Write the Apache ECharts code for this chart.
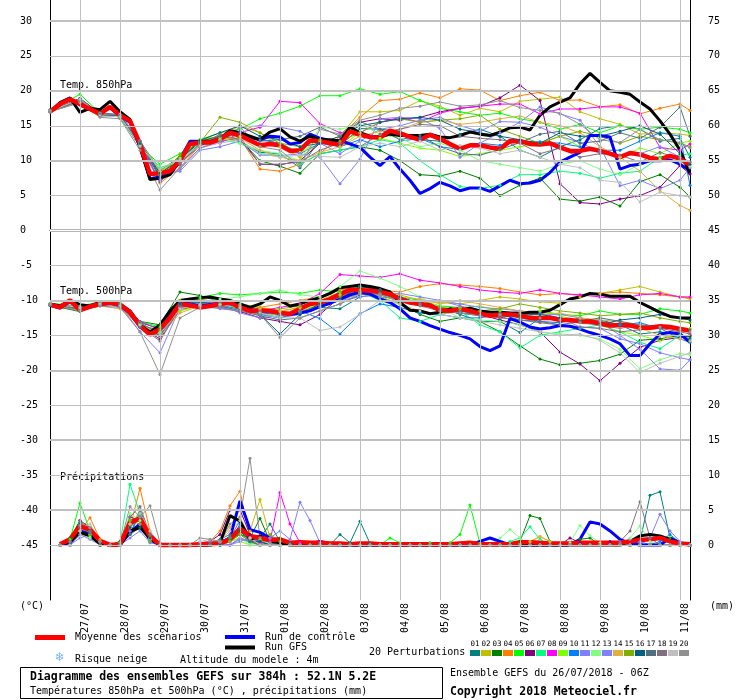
<!DOCTYPE html>
<html>
<head>
<meta charset="utf-8">
<title>GEFS 52.1N 5.2E</title>
<script src="https://cdn.jsdelivr.net/npm/echarts@6.0.0/dist/echarts.min.js"></script>
<style>
    html, body { margin: 0; padding: 0; background: #fff; }
    #chart { width: 740px; height: 700px; }
</style>
</head>
<body>
<div id="chart"></div>
<script>
// pas de temps : 6h depuis le 26/07 06Z, perturbations relevées toutes les 12h
const hours6 = Array.from({ length: 65 }, (_, i) => i * 6)
const precipHours = hours6.slice(1)
const pertHours = [0].concat(Array.from({ length: 31 }, (_, k) => 18 + 12 * k), [384])

const dayLabels = ['27/07', '28/07', '29/07', '30/07', '31/07', '01/08', '02/08', '03/08',
    '04/08', '05/08', '06/08', '07/08', '08/08', '09/08', '10/08', '11/08']
const dayHours = dayLabels.map((d, k) => 18 + 24 * k)
const leftTicks = [30, 25, 20, 15, 10, 5, 0, -5, -10, -15, -20, -25, -30, -35, -40, -45]
const rightTicks = [75, 70, 65, 60, 55, 50, 45, 40, 35, 30, 25, 20, 15, 10, 5, 0]

const pertColors = ['#008080', '#c0c000', '#008000', '#ff8000', '#00ff00', '#800080', '#00ff80',
    '#ff00ff', '#80ff00', '#0080ff', '#8080ff', '#80ff80', '#8080ff', '#e0b040', '#80b000',
    '#006080', '#507080', '#807080', '#c0c0c0', '#909090']

// moyenne, run de contrôle, run GFS (6h)
const mean850 = [17.0,18.1,18.8,18.1,17.4,16.7,17.7,16.5,15.7,12.4,8.1,8.2,8.5,10.0,12.4,12.6,12.6,13.1,14.0,13.6,12.9,12.2,12.4,12.2,11.4,11.5,12.9,12.8,12.5,12.3,14.2,13.7,13.4,13.3,14.3,13.9,13.4,13.0,13.7,13.1,12.4,11.7,12.2,12.2,11.9,11.7,12.8,12.8,12.4,12.3,12.5,11.9,11.4,11.4,11.7,11.4,11.0,10.5,11.1,10.9,10.4,10.2,10.7,10.3,9.4]
const gfs850 = [17.0,18.3,19.0,16.9,17.5,17.3,18.5,17.0,15.9,12.0,7.3,7.5,8.0,10.0,12.5,12.7,12.7,13.2,14.3,14.0,13.5,13.0,14.1,14.6,13.4,12.8,13.5,13.0,13.0,12.8,14.8,14.0,13.5,13.4,13.8,13.6,13.6,13.6,13.8,13.4,13.3,13.6,14.1,13.8,13.6,14.1,14.7,14.8,14.4,16.5,17.7,18.4,19.0,21.0,22.5,21.2,20.0,19.8,19.5,18.4,17.4,15.7,13.8,11.5,8.1]
const ctrl850 = [17.0,18.2,18.9,18.0,17.3,16.8,17.6,16.4,15.5,12.0,7.4,7.7,8.5,10.2,12.8,12.8,12.6,13.0,14.0,13.8,13.3,13.0,13.5,13.4,12.4,12.6,13.8,13.2,12.9,12.9,12.4,11.9,10.5,9.3,10.6,8.8,7.2,5.3,6.0,6.9,6.4,5.7,6.1,6.1,5.6,6.4,7.2,6.7,6.8,7.2,8.3,9.8,10.5,11.2,13.6,13.6,13.4,8.8,9.3,9.5,10.0,10.0,10.1,9.5,8.6]

const mean500 = [-10.6,-11.0,-10.0,-11.4,-10.9,-10.5,-10.3,-10.6,-11.7,-13.6,-14.9,-14.1,-12.5,-10.5,-10.7,-11.0,-10.8,-10.5,-10.3,-11.0,-11.5,-11.4,-11.5,-11.8,-11.9,-11.2,-10.5,-10.3,-9.8,-9.1,-8.5,-8.5,-8.6,-8.8,-9.1,-9.8,-10.3,-10.5,-10.7,-11.4,-11.5,-11.2,-11.5,-11.9,-12.2,-12.0,-12.0,-12.2,-12.5,-12.5,-12.5,-12.8,-12.8,-13.0,-13.0,-13.3,-13.6,-13.5,-13.6,-13.9,-13.9,-13.7,-13.8,-14.1,-14.3]
const gfs500 = [-10.5,-10.8,-10.0,-10.6,-10.8,-10.3,-10.2,-10.5,-11.5,-13.5,-14.5,-13.5,-11.5,-10.0,-9.8,-9.6,-9.5,-9.8,-10.0,-10.5,-11.0,-10.5,-9.5,-10.0,-10.8,-10.5,-10.0,-9.6,-9.0,-8.2,-8.0,-7.8,-8.0,-8.3,-8.8,-10.3,-11.4,-11.5,-11.9,-11.7,-11.2,-11.4,-11.1,-11.5,-11.7,-11.7,-11.8,-11.9,-11.7,-11.7,-11.4,-10.6,-9.8,-9.5,-9.0,-9.1,-9.4,-9.4,-9.4,-10.3,-11.0,-11.7,-12.3,-12.5,-12.5]
const ctrl500 = [-10.7,-11.1,-10.2,-11.2,-10.9,-10.6,-10.4,-10.7,-11.8,-13.8,-14.6,-13.8,-12.0,-10.3,-10.5,-10.8,-10.6,-10.4,-10.4,-10.9,-11.3,-11.5,-11.6,-11.8,-12.0,-11.8,-11.5,-10.9,-10.4,-9.8,-9.2,-8.8,-9.1,-9.8,-10.3,-11.2,-12.5,-13.0,-13.6,-14.1,-14.6,-15.0,-15.5,-16.6,-17.2,-16.5,-12.6,-13.1,-13.8,-14.1,-13.9,-13.6,-13.7,-14.1,-14.6,-15.0,-15.5,-16.2,-17.9,-17.9,-16.2,-14.8,-14.6,-14.8,-16.0]

const meanPrecip = [0.1,0.8,2.7,2.2,0.6,0,0.1,3.2, 3.8,1.3,0,0,0,0,0.1,0.1, 0.2,0.8,2.3,1.3,1.0,0.7,0.8,0.3, 0.4,0.3,0.3,0.2,0.2,0.1,0.2,0.2, 0.1,0.1,0.1,0.1,0.1,0.1,0.1,0.1, 0.2,0.3,0.1,0.1,0.1,0.1,0.4,0.4, 0.3,0.2,0.2,0.2,0.3,0.3,0.3,0.3, 0.3,0.5,0.7,0.8,1.0,0.5,0.2,0.1]
const gfsPrecip = [0,0.5,1.8,1.3,0.2,0,0,2.0, 2.5,1.0,0,0,0,0,0,0, 0.3,4.2,3.4,0.8,1.3,0.5,0.3,0, 0,0,0,0,0,0,0,0, 0,0,0,0,0,0,0,0, 0,0,0,0,0,0,0,0, 0,0,0,0,0,0,0,0, 0,0.5,1.3,1.5,1.3,0.8,0.2,0]
const ctrlPrecip = [0,0.3,2.0,1.5,0.2,0,0,1.8, 3.0,0.8,0,0,0,0,0,0, 0.3,1.0,6.3,2.2,1.8,1.0,0.3,0.1, 0.1,0.1,0.5,0.2,0,0,0,0, 0,0,0,0,0,0,0,0, 0,0,0.5,1.0,0.5,0,0,0, 0,0,0,0,0.8,3.3,3.0,2.0, 0.8,0.2,0,0,0,1.0,0.3,0]

// 20 perturbations (12h)
const pert850 = [
    [17.1,18.9,16.8,16.6,12.8,8.6,10.3,12.9,13.2,12.8,11.2,11.0,9.0,13.0,12.2,14.6,14.5,14.2,13.0,12.8,13.8,14.5,13.5,11.5,10.5,12.0,13.0,14.6,15.0,14.5,12.8,13.2,10.5],
    [17.1,18.9,16.5,16.5,12.4,8.0,10.5,13.0,13.5,15.0,14.0,12.0,10.5,12.5,13.5,17.0,17.0,17.2,18.6,17.8,16.5,17.5,17.0,18.5,18.8,19.1,17.0,16.0,15.2,13.8,14.0,13.8,13.6],
    [17.3,18.6,16.9,16.2,12.0,8.5,10.6,12.8,13.5,13.0,10.0,9.2,8.2,11.0,11.5,12.0,11.5,10.0,8.0,7.8,8.5,7.5,5.0,6.5,7.5,4.5,4.2,4.8,3.5,7.0,8.0,6.2,4.8],
    [17.0,18.5,16.8,16.4,12.8,6.8,9.0,12.2,13.0,13.2,8.8,8.5,9.5,11.0,13.5,16.2,18.6,18.8,19.7,19.0,20.3,20.1,18.6,19.3,19.8,18.6,18.7,17.7,18.0,16.7,17.5,18.1,17.2],
    [17.2,19.5,16.8,16.3,12.0,9.5,11.0,13.0,14.0,14.5,16.0,16.8,17.8,19.3,19.3,20.3,19.5,19.9,18.6,17.5,17.0,16.5,16.8,16.0,15.5,14.5,15.2,14.0,15.0,14.5,14.8,14.5,14.0],
    [17.1,18.9,16.7,16.6,12.2,7.8,10.2,12.7,12.8,13.3,9.5,9.4,10.0,12.5,13.0,15.5,16.0,15.8,16.2,17.0,17.5,17.8,19.0,20.8,18.6,6.7,4.0,3.8,4.5,5.0,6.2,9.3,8.1],
    [17.2,18.5,16.7,16.4,12.2,9.0,10.0,12.5,13.0,12.5,11.0,10.8,9.5,11.0,11.5,12.0,13.0,12.5,10.0,8.0,6.3,6.0,6.5,8.0,8.0,8.5,8.2,7.5,8.2,8.5,10.5,10.8,11.0],
    [17.0,18.8,16.6,16.5,12.5,7.0,9.5,12.3,12.5,14.0,14.8,18.5,18.3,15.3,14.0,14.0,15.5,16.2,15.5,16.8,17.5,17.8,18.1,18.1,16.7,17.4,17.4,17.7,17.7,16.8,11.9,11.5,12.4],
    [17.0,18.6,16.6,16.5,12.5,8.5,10.4,12.8,13.0,13.5,12.0,12.5,11.2,12.8,12.0,14.0,13.2,12.5,11.8,11.5,10.6,11.0,11.5,12.0,12.5,13.5,12.0,11.5,10.5,11.8,11.0,12.5,12.8],
    [17.0,18.7,16.5,16.4,12.6,7.5,9.8,12.2,13.2,14.0,13.0,12.5,11.0,12.5,12.0,13.0,12.0,12.8,13.2,12.0,11.6,12.5,12.2,12.8,12.7,12.5,12.0,11.5,11.5,12.8,14.0,13.5,6.5],
    [17.0,18.7,16.5,16.6,12.9,8.0,8.5,11.5,12.0,12.8,10.8,10.7,11.0,10.5,6.7,10.2,16.0,16.2,16.0,14.6,10.5,12.5,14.0,15.5,17.7,16.7,15.8,12.0,6.4,7.2,6.0,7.2,9.0],
    [17.1,18.8,16.6,16.6,12.3,8.2,10.0,12.4,13.3,12.5,11.5,11.0,10.0,14.8,14.5,15.2,13.8,13.2,12.0,12.5,11.5,10.0,9.5,9.0,8.5,9.5,10.0,8.8,8.0,9.5,10.2,9.8,9.2],
    [17.0,18.5,16.8,16.5,12.0,7.2,8.8,11.8,12.6,14.8,15.0,14.8,14.2,12.5,11.0,12.8,14.5,15.0,15.8,16.2,15.0,14.2,15.6,15.5,14.8,13.5,12.6,11.2,10.6,11.0,12.0,10.5,9.8],
    [17.0,18.4,16.5,16.3,12.6,8.5,9.8,12.4,13.0,13.2,11.5,10.5,10.0,11.2,12.0,13.5,14.2,14.5,15.5,15.8,15.2,15.5,16.0,16.4,15.5,15.0,14.0,12.0,10.5,8.5,5.7,3.6,2.9],
    [17.2,18.7,16.6,16.4,12.5,8.0,10.8,12.6,16.2,15.5,14.0,12.5,12.0,13.0,12.8,14.0,15.5,16.0,15.5,15.8,16.0,16.5,14.5,13.5,12.5,13.5,14.2,13.5,12.5,13.5,13.0,12.5,12.0],
    [17.1,18.8,16.4,16.5,12.4,8.2,10.1,12.9,14.0,15.0,13.5,13.0,12.0,12.5,13.5,15.0,15.5,16.0,16.2,15.8,14.5,14.0,13.5,13.0,12.5,14.0,13.5,13.5,14.2,15.0,13.8,11.0,9.5],
    [17.0,18.6,16.5,16.3,12.7,7.8,9.5,12.5,13.5,14.2,12.8,13.0,13.5,14.8,13.5,15.6,14.5,13.0,13.6,12.0,11.0,10.8,11.6,12.6,13.8,14.2,12.5,12.8,14.0,13.2,14.8,17.7,13.5],
    [17.2,18.5,16.7,16.5,12.0,7.0,9.6,12.2,13.8,13.0,9.5,9.5,9.8,11.5,12.5,12.0,13.8,14.5,15.2,15.0,13.5,13.2,13.0,12.5,11.0,11.8,10.5,11.0,10.8,9.8,11.2,10.2,9.8],
    [17.1,18.8,16.4,16.3,12.1,8.8,10.2,12.1,12.5,13.0,11.0,10.5,10.8,10.6,10.5,12.0,12.5,12.0,12.8,11.5,12.2,11.8,11.0,11.5,10.5,9.5,9.0,7.2,6.9,4.1,5.5,5.0,4.8],
    [17.0,18.3,16.2,16.0,11.5,5.8,9.0,11.8,12.8,14.8,12.0,11.5,9.2,14.5,13.8,15.8,16.5,17.5,17.8,18.4,17.8,18.0,18.6,17.6,17.2,16.8,15.2,13.0,12.6,14.5,13.0,12.6,11.8]
]

const pert500 = [
    [-10.5,-11.0,-10.3,-10.8,-13.2,-14.0,-10.2,-9.8,-10.8,-11.5,-12.0,-12.5,-11.8,-11.0,-11.2,-9.5,-9.0,-10.0,-10.5,-11.0,-12.0,-13.0,-13.0,-14.6,-12.5,-12.5,-13.0,-12.8,-13.5,-14.8,-14.5,-15.0,-15.5],
    [-10.6,-11.2,-10.4,-10.5,-13.5,-14.5,-11.0,-10.2,-10.0,-10.5,-11.0,-11.5,-11.0,-10.0,-8.8,-8.0,-8.5,-9.2,-10.0,-10.3,-10.5,-10.0,-9.5,-9.8,-10.2,-10.4,-9.5,-9.0,-8.5,-8.0,-8.8,-9.5,-9.8],
    [-10.7,-11.6,-10.6,-10.4,-13.0,-13.5,-8.8,-9.3,-10.2,-11.0,-11.8,-12.5,-11.8,-10.5,-9.5,-8.5,-9.5,-10.5,-12.0,-13.0,-12.5,-13.0,-14.5,-16.5,-18.4,-19.2,-19.0,-18.6,-17.7,-15.7,-15.5,-15.0,-15.2],
    [-10.5,-11.0,-10.6,-10.8,-13.6,-15.0,-11.5,-10.5,-10.5,-10.8,-11.0,-10.5,-10.0,-9.5,-8.5,-8.0,-8.5,-8.8,-8.0,-7.6,-7.8,-8.0,-8.3,-8.8,-9.2,-9.0,-9.3,-9.0,-8.8,-9.0,-9.2,-9.5,-9.6],
    [-10.4,-10.8,-10.2,-10.4,-13.0,-13.8,-10.0,-9.6,-9.0,-9.2,-9.0,-8.8,-9.0,-8.5,-8.8,-8.0,-8.5,-9.5,-10.0,-10.8,-11.0,-11.5,-12.0,-12.5,-11.5,-12.0,-12.2,-11.5,-12.0,-12.0,-11.2,-11.5,-11.8],
    [-10.6,-11.2,-10.5,-10.6,-13.8,-15.5,-11.2,-10.8,-11.0,-11.6,-12.5,-13.0,-13.5,-12.0,-9.5,-8.0,-8.5,-9.5,-10.5,-11.0,-11.5,-12.0,-12.8,-13.5,-14.5,-17.4,-19.1,-21.5,-19.0,-16.7,-15.7,-15.3,-15.0],
    [-10.5,-11.3,-10.4,-10.7,-13.4,-14.6,-10.6,-10.0,-10.2,-10.5,-11.2,-12.0,-11.5,-10.2,-9.2,-8.8,-10.0,-12.5,-13.0,-12.0,-11.5,-13.5,-14.5,-16.8,-15.0,-14.5,-14.0,-13.5,-14.5,-16.0,-16.9,-15.0,-15.8],
    [-10.5,-11.0,-10.2,-10.5,-13.0,-14.2,-10.8,-10.5,-10.5,-10.8,-11.5,-11.0,-10.5,-9.0,-6.3,-6.5,-6.7,-6.2,-7.1,-7.5,-8.0,-8.5,-8.8,-9.0,-8.5,-9.0,-9.2,-9.5,-9.8,-9.2,-9.0,-9.5,-9.5],
    [-10.6,-11.1,-10.6,-10.5,-13.2,-14.8,-11.5,-10.8,-10.8,-11.2,-11.8,-12.2,-11.5,-10.5,-10.0,-9.0,-9.5,-10.5,-11.8,-12.0,-11.0,-10.8,-11.5,-12.0,-11.5,-12.2,-13.0,-13.5,-14.5,-15.0,-15.8,-14.5,-14.0],
    [-10.7,-11.2,-10.5,-10.9,-13.8,-15.2,-10.5,-10.2,-10.6,-11.3,-11.8,-12.0,-11.5,-12.6,-14.8,-11.9,-10.5,-11.0,-11.8,-12.0,-12.5,-12.5,-12.0,-12.8,-13.0,-13.2,-12.5,-13.0,-13.5,-13.2,-14.0,-15.5,-16.0],
    [-10.6,-11.0,-10.5,-10.7,-14.5,-17.5,-11.0,-10.8,-11.2,-11.5,-12.0,-12.5,-12.0,-10.8,-10.0,-9.0,-9.5,-9.8,-10.2,-10.0,-10.8,-11.5,-12.0,-11.5,-11.8,-12.5,-13.8,-14.0,-15.5,-16.2,-17.5,-18.2,-18.5],
    [-10.5,-11.1,-10.3,-10.6,-13.3,-14.6,-11.0,-10.2,-9.8,-9.5,-9.0,-8.5,-9.2,-9.5,-8.0,-5.8,-6.8,-8.0,-9.5,-11.0,-12.5,-12.8,-13.0,-13.5,-14.5,-14.8,-15.0,-15.5,-17.0,-19.8,-18.5,-17.6,-17.8],
    [-10.6,-11.3,-10.6,-10.8,-13.5,-15.0,-11.2,-10.5,-10.6,-11.8,-12.5,-12.2,-11.8,-11.0,-10.0,-9.5,-9.2,-9.0,-9.5,-10.0,-10.5,-11.0,-11.2,-11.5,-12.0,-12.0,-12.5,-13.0,-15.0,-17.0,-19.8,-20.0,-18.5],
    [-10.5,-11.4,-10.8,-11.2,-13.5,-15.2,-11.8,-10.8,-10.5,-10.8,-11.2,-11.6,-11.0,-10.0,-9.2,-8.8,-9.0,-9.5,-9.8,-10.5,-10.0,-10.5,-11.0,-11.5,-12.0,-11.8,-12.5,-12.8,-13.0,-14.0,-15.0,-15.5,-15.8],
    [-10.6,-11.2,-10.4,-10.6,-13.6,-14.2,-10.0,-9.8,-10.3,-11.2,-11.5,-11.2,-10.8,-10.2,-9.5,-8.5,-9.2,-10.0,-10.5,-11.0,-11.2,-11.5,-11.2,-10.5,-11.0,-11.5,-11.8,-12.2,-12.0,-11.8,-12.5,-13.0,-13.2],
    [-10.6,-11.0,-10.5,-10.7,-13.7,-15.0,-10.5,-10.3,-10.5,-11.0,-12.0,-14.8,-12.0,-10.5,-9.8,-8.0,-8.5,-9.5,-10.5,-11.5,-11.8,-12.0,-12.5,-12.0,-12.0,-12.5,-13.0,-13.5,-12.8,-12.5,-12.0,-12.5,-12.8],
    [-10.5,-11.3,-10.6,-10.6,-13.2,-14.8,-10.8,-10.5,-10.8,-11.5,-12.2,-12.8,-12.5,-11.5,-10.5,-9.2,-9.0,-9.8,-10.5,-11.5,-11.8,-12.2,-11.8,-12.5,-13.0,-13.5,-13.0,-12.5,-13.0,-13.5,-13.8,-14.0,-14.2],
    [-10.6,-11.2,-10.4,-10.5,-13.8,-15.8,-11.0,-10.5,-10.2,-11.0,-11.5,-12.0,-11.6,-10.8,-10.0,-8.8,-9.0,-9.8,-10.5,-11.2,-11.5,-12.0,-12.5,-12.8,-13.2,-13.5,-13.8,-14.0,-14.5,-14.2,-14.0,-14.5,-14.8],
    [-10.5,-11.0,-10.5,-10.8,-13.5,-14.8,-11.2,-10.6,-10.6,-11.0,-11.8,-12.5,-12.5,-14.3,-13.8,-12.0,-10.0,-10.5,-11.5,-12.0,-12.5,-13.0,-13.5,-14.0,-14.5,-15.0,-14.8,-15.7,-17.5,-20.3,-19.0,-18.0,-17.5],
    [-10.6,-11.5,-10.8,-11.0,-14.5,-20.6,-12.5,-11.0,-11.0,-11.5,-12.0,-15.3,-12.5,-11.5,-10.5,-9.0,-9.2,-10.2,-10.8,-11.5,-11.8,-12.2,-12.0,-11.8,-12.5,-12.8,-13.2,-13.6,-14.0,-13.5,-13.8,-14.2,-14.5]
]

// précipitations des perturbations (6h, à partir de +6h)
const pertPrecip = [
    [0,0.5,2.5,1.5,0.3,0,0,2.0, 3.0,0.8,0,0,0,0,0,0, 0.3,1.2,1.5,0.5,1.0,3.0,0.5,0.3, 0,0,0,0,1.5,0.3,3.4,0.2, 0,0,0,0,0,0,0,0, 0,0,0,0,0,0,0,0, 0,0,0,0,0,0,0,0, 0,0,0.5,7.1,7.6,1.0,0,0],
    [0,0,2.0,1.5,0,0,0,3.0, 4.5,1.0,0,0,0,0,0,0, 0,0.5,1.5,2.0,6.5,1.0,0,0, 0,0,0,0,0,0,0,0, 0,0,0,0,0,0,0,0, 0,0,0,0,0,0,0.2,0.5, 1.2,0.5,0,0,0,0,0,0, 0,0,0,0,0,0,0,0],
    [0,1.0,3.5,1.0,0,0,0.5,1.5, 2.5,0.5,0,0,0,0,0,0, 0,0.8,1.5,1.0,3.8,0.5,1.0,0, 0,0,0,0,0,0,0,0, 0,0,0,0,0,0,0,0, 0,0,0,0,0,0,0.5,4.2, 3.8,0.5,0,0,0.8,1.0,0,0, 0,0,0,0,0,0,0,0],
    [0,0.5,2.0,3.9,0.8,0,0,2.5, 8.1,2.0,0,0,0,0,0.3,0.5, 2.0,5.6,7.7,1.0,0.3,0,0,0, 0,0,0,0,0,0,0,0, 0,0,0,0,0,0,0,0, 0,0,0,0,0,0,0,0, 0,0,0,0,0,0,0,0, 0,0,0,0,0,0,0,0],
    [0,0.8,6.0,2.0,0.5,0,0,3.5, 4.0,1.5,0,0,0,0,0,0, 0.5,1.0,2.0,0.5,0,0,0,0, 0,0,0,0,0,0,0,0, 0,1.0,0.3,0,0,0.3,0,0.3, 1.5,5.7,0.2,0,0,0,0,0, 0,0,0,0,0,0,0,0, 0,0,0,0,0,0,0,0],
    [0,0.5,3.5,2.5,0.3,0,0,4.0, 3.5,1.0,0,0,0,0,0,0.5, 1.5,5.0,5.0,1.5,0.5,0,0,0, 0,0,0,0,0,0,0,0, 0,0,0,0,0,0,0,0, 0,0,0,0,0,0,0,0, 0,0,0,1.0,0.3,0,0,0.5, 0.5,0,0,0,0,0,0,0],
    [0,0,3.0,1.5,0,0,0.3,8.7, 4.5,0.5,0,0,0,0,0,0, 0,0.5,1.0,0.3,0,0,0,0, 0,0,0,0,0,0,0,0, 0,0,0,0,0,0,0,0, 0,0,0,0,0,0.5,1.0,2.6, 0.8,0,0,0,0,0,0,0, 0,0,0,0,0,0,0,0],
    [0,0,2.5,1.0,0,0,0,2.0, 3.0,0.8,0,0,0,0,0.3,0.5, 0.3,0,1.0,0.5,0.3,0.5,7.5,3.0, 0.3,0,0,0,0,0,0,0, 0,0,0,0,0,0,0,0, 0,0,0,0,0,0,0,0, 0,0,0,0,0,0,0,0, 0,0,0,0,0,0,0,0],
    [0,0,1.5,1.2,0,0,0,2.5, 5.0,1.0,0,0,0,0,0,0, 0.5,1.0,0.5,0,0.8,0,0,0, 0,0,0,0,0,0,0,0, 0,0,0,0,0,0,0,0, 0,0,0,0,0,0,0,0, 0,0,0,0,0,0,0,0, 0,0,0,0,0,1.3,0.3,0],
    [0,0.3,2.0,1.5,0,0,0,1.5, 4.5,0.5,0,0,0,0,0,0, 0,0.5,3.0,1.0,0.5,0,0,0, 0,0,0,0,0,0,0,0, 0,0,0,0,0,0,0,0, 0,0,0,0,0,0,0,0, 0,0,0,0,0,0,0,0, 0,0,0,0,0.5,1.5,0.3,0],
    [0,0,1.5,0.8,0,0,0,1.0, 2.0,0.3,0,0,0,0,0,0, 0,0,0.5,1.0,0,1.0,2.0,0.8, 6.1,3.5,0.3,0,0,0,0,0, 0,0,0,0,0,0,0,0, 0,0,0,0,0,0,0,0, 0,0,0,0,0,0,0,0, 0.3,0.8,0.5,0,0,0,0,0],
    [0,0,2.0,1.0,0,0,0,4.5, 3.5,0.8,0,0,0,0,0,0, 0,0.5,1.0,0,0,0,0,0, 0,0,0,0,0,0,0,0, 0,0,0,0,0,0,0,0, 0,0,0,0,1.0,2.2,1.0,0, 0,0,0,0.3,2.8,1.3,0.3,0, 0,1.0,2.7,0.5,0,0,0,0],
    [0,0,1.0,1.5,0,0,0,2.0, 3.0,0.5,0,0,0,0,0,0, 0,0,0.8,0.5,0,0,0,0, 0,0,0,0,0,0,0,0, 0,0,0,0,0,0,0,0, 0,0,0,0,0,0,0,0, 0,0,0,0,0,0,0,0, 0,0,0,1.0,4.4,2.0,0.5,0],
    [0,0,3.0,2.5,0,0,0,3.0, 4.0,1.0,0,0,0,0,0,0.5, 0.5,2.5,4.0,1.0,0,0,0,0, 0,0,0,0,0,0,0,0, 0,0,0,0,0,0,0,0, 0,0,0,0,0,0,0,0.5, 1.2,0.5,0,0,0,0,0,0, 0,0,0,0,0,0,0,0],
    [0,0,2.5,1.5,0,0,0,3.5, 3.0,0.5,0,0,0,0,0,0, 0,0.5,1.5,0.5,0,1.5,0.5,0, 0,0,0,0,0,0,0,0, 0,0,0,0,0,0,0,0, 0,0,0,0,0,0,0,0, 0,0,0,0,0,0,0,0, 0,0,0,0,0,0,0,0],
    [0,0.3,3.0,2.0,0,0,0,2.5, 4.0,1.0,0,0,0,0,0,0, 0,1.0,2.0,0.5,0.5,0,0,0, 0,0,0,0,0,0,0,0, 0,0,0,0,0,0,0,0, 0,0,0,0,0,0,0,0, 0,0,0,0,0,0,0,0, 0,0,0,0,0,0,0,0],
    [0,0,2.5,1.8,0,0,0,1.5, 5.0,1.5,0,0,0,0,0,0.3, 0.8,1.5,2.5,0.5,0,0,0,0, 0,0,0,0,0,0,0,0, 0,0,0,0,0,0,0,0, 0,0,0,0,0,0,0,0, 0,0,0,0,0,0,0,0, 0,0,0,0,0,0,0,0],
    [0,0,3.5,2.0,0,0,0,4.0, 5.5,1.5,0,0,0,0,0,0, 0.5,1.0,3.5,0.8,0,0,0,0, 0,0,0,0,0,0,0,0, 0,0,0,0,0,0,0,0, 0,0,0,0,0,0,0,0, 0,0,0,0,0,0,0,0, 0.5,2.0,6.2,1.0,0,0,0,0],
    [0,0,2.0,3.0,0.5,0,0,3.0, 4.5,2.0,0,0,0,0,0.5,0.8, 0.5,2.0,3.5,1.0,0,0,0,0, 0,0,0,0,0,0,0,0, 0,0,0,0,0,0,0,0, 0,0,0,0,0,0,0,0, 0,0,0,0,0,0,0,0, 0,0,0,0,0,0,0,0],
    [0,0.5,2.8,2.5,0.5,0,0,5.5, 4.0,5.6,0.3,0,0,0,1.0,0.8, 0.5,3.0,4.0,12.4,1.0,0.3,0,0, 0,0,0,0,0,0,0,0, 0,0,0,0,0,0,0,0, 0,0,0,0,0,0,0,0, 0,0,0,0,0,0,0,0, 0,0,0,0,0,0,0,0]
]

const MONO = '"DejaVu Sans Mono", "Liberation Mono", monospace'

function toPairs(hours, values) {
    return values.map((v, i) => [hours[i], v])
}

function lineSeries(hours, values, color, width, yAxisIndex, withSymbol) {
    return {
        type: 'line',
        yAxisIndex: yAxisIndex,
        data: toPairs(hours, values),
        silent: true,
        symbol: withSymbol ? 'circle' : 'none',
        symbolSize: 3,
        showSymbol: !!withSymbol,
        itemStyle: { color: color },
        lineStyle: { color: color, width: width },
        emphasis: { disabled: true }
    }
}

// lignes de la grille (horizontales tous les 5, verticales à chaque jour 00Z)
let gridLines = []
leftTicks.forEach(v => {
    if (v === 0) {
        gridLines.push({ yAxis: 0, lineStyle: { color: '#b4b4b4', width: 3, type: 'solid' } })
        gridLines.push({ yAxis: 0, lineStyle: { color: '#ffffff', width: 1, type: 'solid' } })
    } else {
        gridLines.push({ yAxis: v, lineStyle: { color: '#c0c0c0', width: v % 10 === 0 ? 2 : 1, type: 'solid' } })
    }
})
dayHours.forEach(h => {
    gridLines.push({ xAxis: h, lineStyle: { color: '#c0c0c0', width: 1, type: 'solid' } })
})

let series = [{
    type: 'line',
    data: [],
    silent: true,
    markLine: {
        silent: true,
        symbol: 'none',
        animation: false,
        label: { show: false },
        emphasis: { disabled: true },
        data: gridLines
    }
}]

pertColors.forEach((color, k) => {
    series.push(lineSeries(pertHours, pert850[k], color, 1, 0, true))
    series.push(lineSeries(pertHours, pert500[k], color, 1, 0, true))
    series.push(lineSeries(precipHours, pertPrecip[k], color, 1, 1, true))
})

series.push(lineSeries(hours6, ctrl850, '#0000ff', 3, 0))
series.push(lineSeries(hours6, ctrl500, '#0000ff', 3, 0))
series.push(lineSeries(precipHours, ctrlPrecip, '#0000ff', 3, 1))
series.push(lineSeries(hours6, gfs850, '#000000', 3, 0))
series.push(lineSeries(hours6, gfs500, '#000000', 3, 0))
series.push(lineSeries(precipHours, gfsPrecip, '#000000', 3, 1))
series.push(lineSeries(hours6, mean850, '#ff0000', 4.5, 0))
series.push(lineSeries(hours6, mean500, '#ff0000', 4.5, 0))
series.push(lineSeries(precipHours, meanPrecip, '#ff0000', 4.5, 1))

function txt(x, y, text, font, fill) {
    return {
        type: 'text', x: x, y: y, silent: true,
        style: { text: text, font: font || ('10px ' + MONO), fill: fill || '#000', verticalAlign: 'middle' }
    }
}

function box(x, y, w, h, fill) {
    return { type: 'rect', silent: true, shape: { x: x, y: y, width: w, height: h }, style: { fill: fill } }
}

let graphics = [
    txt(60, 85, 'Temp. 850hPa'),
    txt(60, 291, 'Temp. 500hPa'),
    txt(60, 477, 'Précipitations'),
    txt(20, 606, '(°C)'),
    txt(710, 606, '(mm)'),
    box(35, 635, 30, 5, '#ff0000'),
    txt(75, 637.5, 'Moyenne des scénarios'),
    box(225, 635, 30, 4, '#0000ff'),
    txt(265, 637.5, 'Run de contrôle'),
    box(225, 645.5, 30, 4, '#000000'),
    txt(265, 647.5, 'Run GFS'),
    txt(55, 657.5, '❄', '12px "DejaVu Sans"', '#78b4f0'),
    txt(75, 659, 'Risque neige'),
    txt(180, 660, 'Altitude du modele : 4m'),
    txt(369, 652.5, '20 Perturbations'),
    {
        type: 'rect', silent: true,
        shape: { x: 20.5, y: 667.5, width: 422, height: 31 },
        style: { fill: 'none', stroke: '#000', lineWidth: 1 }
    },
    txt(30, 677.5, 'Diagramme des ensembles GEFS sur 384h : 52.1N 5.2E', 'bold 11.5px ' + MONO),
    txt(30, 691.5, 'Températures 850hPa et 500hPa (°C) , précipitations (mm)'),
    txt(450, 673, 'Ensemble GEFS du 26/07/2018 - 06Z'),
    txt(450, 692, 'Copyright 2018 Meteociel.fr', 'bold 11.5px ' + MONO)
]

pertColors.forEach((color, k) => {
    let x = 470 + 11 * k
    graphics.push(box(x, 650, 10, 6, color))
    let label = txt(x + 5, 644.5, String(k + 1).padStart(2, '0'), '7.5px ' + MONO)
    label.style.align = 'center'
    graphics.push(label)
})

const labelStyle = { fontFamily: MONO, fontSize: 10, color: '#000' }

const option = {
    backgroundColor: '#fff',
    animation: false,
    grid: { left: 50, right: 50, top: 0, bottom: 100 },
    xAxis: {
        type: 'value',
        min: 0,
        max: 384,
        axisLine: { show: true, lineStyle: { color: '#000', width: 1 } },
        axisTick: { show: false },
        splitLine: { show: false },
        axisLabel: Object.assign({}, labelStyle, {
            customValues: dayHours,
            rotate: 90,
            margin: 3,
            verticalAlign: 'top',
            formatter: v => dayLabels[Math.round((v - 18) / 24)]
        })
    },
    yAxis: [{
        type: 'value',
        min: -52.88,
        max: 33,
        axisLine: { show: true, lineStyle: { color: '#000', width: 1 } },
        axisTick: { show: false },
        splitLine: { show: false },
        axisLabel: Object.assign({}, labelStyle, {
            customValues: leftTicks,
            align: 'left',
            margin: 30,
            formatter: v => String(v)
        })
    }, {
        type: 'value',
        position: 'right',
        min: -7.88,
        max: 78,
        axisLine: { show: true, lineStyle: { color: '#000', width: 1 } },
        axisTick: { show: false },
        splitLine: { show: false },
        axisLabel: Object.assign({}, labelStyle, {
            customValues: rightTicks,
            align: 'left',
            margin: 18,
            formatter: v => String(v)
        })
    }],
    series: series,
    graphic: graphics
}

let myChart = echarts.init(document.getElementById('chart'))
myChart.setOption(option)
</script>
</body>
</html>
